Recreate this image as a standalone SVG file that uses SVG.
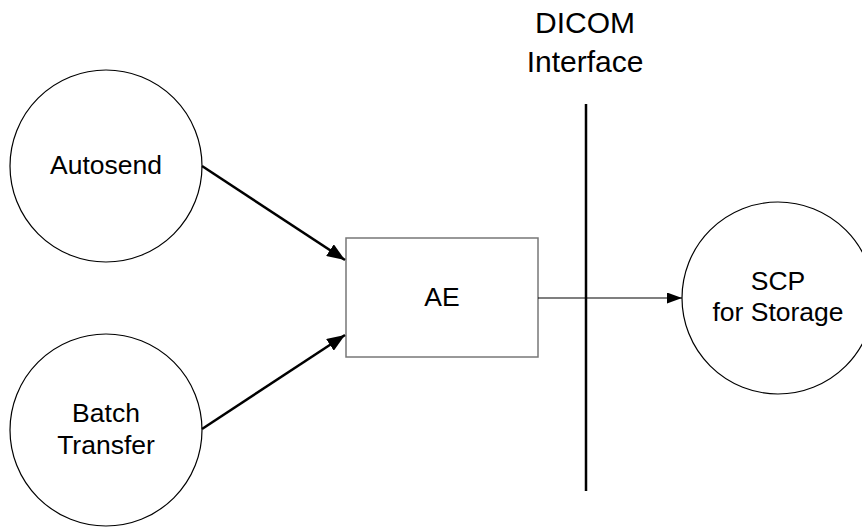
<svg xmlns="http://www.w3.org/2000/svg" width="862" height="527" viewBox="0 0 862 527">
  <style>
    .node circle { fill: #ffffff; stroke: #000000; stroke-width: 1.2; }
    .box { fill: #ffffff; stroke: #777777; stroke-width: 1.5; }
    .label { font-family: "Liberation Sans", Arial, sans-serif; font-size: 26.5px; fill: #000000; text-anchor: middle; }
    .title { font-family: "Liberation Sans", Arial, sans-serif; font-size: 30px; fill: #000000; text-anchor: middle; }
    .thick { stroke: #000000; stroke-width: 2.5; fill: none; }
    .thin { stroke: #000000; stroke-width: 1.2; fill: none; }
  </style>
  <defs>
    <marker id="headBig" markerUnits="userSpaceOnUse" markerWidth="18" markerHeight="14" viewBox="0 0 18 14" refX="18" refY="7" orient="auto">
      <path d="M0,0 L18,7 L0,14 Z" fill="#000000"/>
    </marker>
    <marker id="headSmall" markerUnits="userSpaceOnUse" markerWidth="15" markerHeight="11" viewBox="0 0 15 11" refX="15" refY="5.5" orient="auto">
      <path d="M0,0 L15,5.5 L0,11 Z" fill="#000000"/>
    </marker>
  </defs>

  <rect width="862" height="527" fill="#ffffff"/>

  <!-- interface boundary -->
  <g id="dicom-interface">
    <text class="title" x="585" y="33">DICOM</text>
    <text class="title" x="585" y="72">Interface</text>
    <line x1="586" y1="104" x2="586" y2="491" stroke="#000000" stroke-width="2.5"/>
  </g>

  <g id="autosend" class="node">
    <circle cx="106" cy="166" r="96"/>
    <text class="label" x="106" y="173.5">Autosend</text>
  </g>

  <g id="batch-transfer" class="node">
    <circle cx="106" cy="430" r="96"/>
    <text class="label" x="106" y="422">Batch</text>
    <text class="label" x="106" y="454">Transfer</text>
  </g>

  <g id="ae" class="node">
    <rect class="box" x="346" y="238" width="192" height="119"/>
    <text class="label" x="442" y="306">AE</text>
  </g>

  <g id="scp-storage" class="node">
    <circle cx="778" cy="298" r="96"/>
    <text class="label" x="778" y="290">SCP</text>
    <text class="label" x="778" y="321">for Storage</text>
  </g>

  <g id="connectors">
    <line class="thick" x1="202" y1="166" x2="345" y2="260" marker-end="url(#headBig)"/>
    <line class="thick" x1="202" y1="429" x2="345" y2="335" marker-end="url(#headBig)"/>
    <line class="thin" x1="538" y1="298" x2="682" y2="298" marker-end="url(#headSmall)"/>
  </g>
</svg>
